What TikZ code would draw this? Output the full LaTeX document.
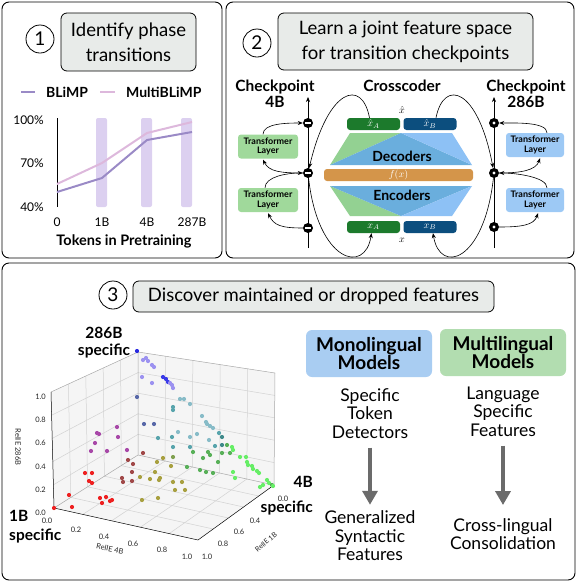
\documentclass[tikz,border=0pt]{standalone}
\usepackage{fontspec}
\setmainfont{Lato}
\usepackage{amsmath}
\usetikzlibrary{arrows.meta,calc,positioning}

\definecolor{panelgray}{HTML}{E8EBE9}
\definecolor{barlav}{HTML}{DCD0F0}
\definecolor{blimpc}{HTML}{9A8AC6}
\definecolor{multic}{HTML}{DDB8DC}
\definecolor{tlgreen}{HTML}{A0D99B}
\definecolor{tlblue}{HTML}{9DC9F5}
\definecolor{decgreen}{HTML}{93D192}
\definecolor{decmid}{HTML}{6AAEDD}
\definecolor{declight}{HTML}{8DC1F5}
\definecolor{fxorange}{HTML}{D4954A}
\definecolor{xagreen}{HTML}{1C7A2C}
\definecolor{xbblue}{HTML}{0C4E7E}
\definecolor{monoblue}{HTML}{A9CDF2}
\definecolor{multigreen}{HTML}{B2DDB0}
\definecolor{paneface}{HTML}{F5F5F5}
\definecolor{gridc}{HTML}{D2D2D2}
\definecolor{arrowgray}{HTML}{6B6B6B}
% scatter colours
\definecolor{c1}{HTML}{2A2AE0}
\definecolor{c2}{HTML}{9C92F0}
\definecolor{c3}{HTML}{3A3AE8}
\definecolor{c4}{HTML}{5868A8}
\definecolor{c5}{HTML}{88BCC8}
\definecolor{c6}{HTML}{58A4AC}
\definecolor{c7}{HTML}{3F8A8A}
\definecolor{c8}{HTML}{58B058}
\definecolor{c9}{HTML}{66EE66}
\definecolor{c10}{HTML}{A8A040}
\definecolor{c11}{HTML}{A04848}
\definecolor{c12}{HTML}{A848A8}
\definecolor{c13}{HTML}{EE2020}
\definecolor{c14}{HTML}{80A050}

\begin{document}
\begin{tikzpicture}[x=1pt,y=-1pt,>={Stealth[length=5pt,width=4pt]}]
    \tikzset{
      panel/.style={draw, rounded corners=7pt, line width=0.9pt},
      titlebox/.style={draw, fill=panelgray, rounded corners=6pt, line width=0.8pt, align=center, inner sep=0pt,
        font=\fontsize{18.5}{25}\selectfont},
      numcirc/.style={draw, circle, fill=white, line width=0.8pt, minimum size=28pt, inner sep=0pt,
        font=\fontsize{19}{19}\selectfont},
      boldlab/.style={font=\fontsize{14}{16}\selectfont\bfseries, align=center, inner sep=0pt},
      ticklab/.style={font=\fontsize{12}{12}\selectfont, inner sep=0pt},
      tlayer/.style={rounded corners=3pt, align=center, inner sep=0pt, minimum width=60pt, minimum height=24pt,
        font=\fontsize{9}{9.5}\selectfont\bfseries},
      cpnode/.style={circle, fill=black, minimum size=10pt, inner sep=0pt},
      minusnode/.style={cpnode, path picture={\draw[white, line width=1.1pt]
        ([xshift=-2.6pt]path picture bounding box.center) -- ([xshift=2.6pt]path picture bounding box.center);}},
      dotnode/.style={cpnode, path picture={\fill[white] (path picture bounding box.center) circle (1.7pt);}},
      xbar/.style={rounded corners=3pt, minimum width=53pt, minimum height=12pt, inner sep=0pt, text=white,
        font=\fontsize{10}{10}\selectfont},
      arrow/.style={->, line width=0.6pt},
      modelbox/.style={rounded corners=6pt, align=center, minimum width=126pt, minimum height=47pt, inner sep=0pt,
        font=\fontsize{19}{18}\selectfont\bfseries},
      desc/.style={align=center, inner sep=0pt, font=\fontsize{17.5}{18.5}\selectfont},
      bigarrow/.style={-{Triangle[length=14pt,width=15pt]}, line width=4pt, arrowgray},
      smalltick/.style={font=\fontsize{7.5}{7.5}\selectfont, inner sep=0pt, text=black!85}
    }
    \useasboundingbox (0,0) rectangle (576,582);

    % panels
    \draw[panel] (2,2) rectangle (222,258);
    \draw[panel] (226,2) rectangle (574,258);
    \draw[panel] (2,263) rectangle (575,580);

    % ---- panel 1 ----
    \node[numcirc] (num1) at (40,39) {1};
    \node[titlebox, minimum width=135pt, minimum height=58pt] (title1) at (128.5,42) {Identify phase\\transitions};
    \draw[blimpc, line width=2pt] (21,92) -- (35,92);
    \node[boldlab, anchor=west] (legblimp) at (46,92) {BLiMP};
    \draw[multic, line width=2pt] (100,92) -- (115,92);
    \node[boldlab, anchor=west] (legmulti) at (126,92) {MultiBLiMP};
    \foreach \bx in {96,141,181}
      \fill[barlav, rounded corners=2pt] (\bx,118) rectangle ++(11,89);
    \draw[line width=0.6pt] (57,118) -- (57,207);
    \draw[multic, line width=2pt] (57,184) -- (102,163) -- (147,133) -- (192,122);
    \draw[blimpc, line width=2pt] (57,192) -- (102,178) -- (147,140) -- (192,132);
    \node[ticklab, anchor=east] (y100) at (44,120) {100\%};
    \node[ticklab, anchor=east] (y70) at (44,163) {70\%};
    \node[ticklab, anchor=east] (y40) at (44,207) {40\%};
    \node[ticklab] (x0) at (57,222) {0};
    \node[ticklab] (x1b) at (102,222) {1B};
    \node[ticklab] (x4b) at (147,222) {4B};
    \node[ticklab] (x287b) at (192,222) {287B};
    \node[boldlab, font=\fontsize{14.5}{16}\selectfont\bfseries] (xtitle) at (124,241) {Tokens in Pretraining};

    % ---- panel 2 ----
    \node[numcirc] (num2) at (257,43) {2};
    \node[titlebox, minimum width=255pt, minimum height=57pt] (title2) at (405.5,41.5)
      {Learn a joint feature space\\for transition checkpoints};
    \node[boldlab, font=\fontsize{15.5}{16}\selectfont\bfseries] (cp4b) at (275,94) {Checkpoint\\4B};
    \node[boldlab, font=\fontsize{15.5}{16}\selectfont\bfseries] (crossc) at (402,86) {Crosscoder};
    \node[boldlab, font=\fontsize{15.5}{16}\selectfont\bfseries] (cp286b) at (526,94) {Checkpoint\\286B};

    % residual streams
    \coordinate (la) at (308,248);
    \coordinate (lb) at (308,97);
    \coordinate (ra) at (494,248);
    \coordinate (rb) at (494,97);
    \draw[arrow] (la) -- (lb);
    \draw[arrow] (ra) -- (rb);
    \node[minusnode] (na1) at (308,123) {};
    \node[minusnode] (na2) at (308,173) {};
    \node[minusnode] (na3) at (308,228) {};
    \node[dotnode] (nb1) at (494,123) {};
    \node[dotnode] (nb2) at (494,173) {};
    \node[dotnode] (nb3) at (494,227) {};
    \node[tlayer, fill=tlgreen] (tla1) at (268,146.5) {Transformer\\Layer};
    \node[tlayer, fill=tlgreen] (tla2) at (268,200) {Transformer\\Layer};
    \node[tlayer, fill=tlblue, minimum width=58pt] (tlb1) at (535,145) {Transformer\\Layer};
    \node[tlayer, fill=tlblue, minimum width=58pt] (tlb2) at (535,200) {Transformer\\Layer};

    \draw[arrow] (na2.west) .. controls +(-22,0) and +(6,12) .. ($(tla1.south)+(-5,1)$);
    \draw[arrow] ($(tla1.north)+(-5,0)$) .. controls +(0,-11) and +(-16,0) .. (na1.west);
    \draw[arrow] (na3.west) .. controls +(-22,0) and +(6,12) .. ($(tla2.south)+(0,1)$);
    \draw[arrow] ($(tla2.north)+(-3,0)$) .. controls +(0,-11) and +(-16,0) .. (na2.west);
    \draw[arrow] ($(tlb1.north)+(12,0)$) .. controls +(0,-11) and +(16,0) .. (nb1.east);
    \draw[arrow] (nb2.east) .. controls +(22,0) and +(-4,12) .. ($(tlb1.south)+(5,1)$);
    \draw[arrow] ($(tlb2.north)+(12,0)$) .. controls +(0,-11) and +(16,0) .. (nb2.east);
    \draw[arrow] (nb3.east) .. controls +(22,0) and +(-4,12) .. ($(tlb2.south)+(3,1)$);

    % crosscoder body
    \fill[decgreen] (330,165) -- (350,133) -- (401,133) -- cycle;
    \fill[decmid] (330,165) -- (401,133) -- (472,165) -- cycle;
    \fill[declight] (401,133) -- (452,133) -- (472,165) -- cycle;
    \fill[decgreen] (330,186) -- (350,216) -- (401,216) -- cycle;
    \fill[decmid] (330,186) -- (401,216) -- (472,186) -- cycle;
    \fill[declight] (401,216) -- (452,216) -- (472,186) -- cycle;
    \node[boldlab] (dec) at (402,156) {Decoders};
    \node[boldlab] (enc) at (402,195) {Encoders};
    \node[xbar, fill=fxorange, minimum width=149pt] (fx) at (398.5,175) {$f(x)$};
    \node[xbar, fill=xagreen] (xha) at (373.5,124) {$\hat{x}_A$};
    \node[xbar, fill=xbblue] (xhb) at (430,124) {$\hat{x}_B$};
    \node[xbar, fill=xagreen] (xa) at (373.5,227) {$x_A$};
    \node[xbar, fill=xbblue] (xb) at (430,227) {$x_B$};
    \node[font=\fontsize{10}{10}\selectfont, inner sep=0pt] (xhat) at (402,110) {$\hat{x}$};
    \node[font=\fontsize{10}{10}\selectfont, inner sep=0pt] (xin) at (402,240) {$x$};

    \draw[arrow] ($(xha.north)+(-4,0)$) .. controls (362,78) and (328,88) .. (na2);
    \draw[arrow] (na2) .. controls (318,262) and (365,275) .. ($(xa.south)+(-2,0)$);
    \draw[arrow] ($(xhb.north)+(6,0)$) .. controls (444,78) and (478,88) .. (nb2);
    \draw[arrow] (nb2) .. controls (484,262) and (440,275) .. ($(xb.south)+(3,0)$);

    % ---- panel 3 ----
    \node[numcirc] (num3) at (113,295) {3};
    \node[titlebox, minimum width=361pt, minimum height=31pt] (title3) at (313.5,296.5)
      {Discover maintained or dropped features};

    % 3d scatter
    \coordinate (f00) at (138,455);
    \coordinate (f01) at (54,508);
    \coordinate (f11) at (198,540);
    \coordinate (f10) at (274,485);
    \coordinate (z00) at (138,352);
    \coordinate (z01) at (51,392);
    \coordinate (z10) at (275,373);
    \fill[paneface] (f00) -- (f01) -- (f11) -- (f10) -- cycle;
    \fill[paneface] (f00) -- (f01) -- (z01) -- (z00) -- cycle;
    \fill[paneface] (f00) -- (f10) -- (z10) -- (z00) -- cycle;
    \foreach \t in {0.2,0.4,0.6,0.8} {
      \draw[gridc, line width=0.5pt] ($(f00)!\t!(f10)$) -- ($(f01)!\t!(f11)$);
      \draw[gridc, line width=0.5pt] ($(f00)!\t!(f01)$) -- ($(f10)!\t!(f11)$);
      \draw[gridc, line width=0.5pt] ($(f00)!\t!(f01)$) -- ($(z00)!\t!(z01)$);
      \draw[gridc, line width=0.5pt] ($(f00)!\t!(z00)$) -- ($(f01)!\t!(z01)$);
      \draw[gridc, line width=0.5pt] ($(f00)!\t!(f10)$) -- ($(z00)!\t!(z10)$);
      \draw[gridc, line width=0.5pt] ($(f00)!\t!(z00)$) -- ($(f10)!\t!(z10)$);
    }
    \draw[gridc!80!black, line width=0.5pt] (z01) -- (z00) -- (z10) -- (f10);
    \draw[gridc!80!black, line width=0.5pt] (z00) -- (f00) -- (f01);
    \draw[gridc!80!black, line width=0.5pt] (f00) -- (f10);
    \draw[line width=0.5pt] (z01) -- (f01) -- (f11) -- (f10);

    \foreach \px/\py/\pc in {
      137/351/c1, 143/360/c2, 146/358/c2, 148/361/c2, 152/365/c2, 154/367/c2, 142/377/c2, 152/383/c2,
      163/377/c3, 166/379/c3, 168/382/c3, 170/383/c2, 172/385/c2, 173/388/c2, 137/397/c4,
      180/399/c5, 184/399/c5, 190/404/c5, 173/407/c6, 173/410/c6, 144/424/c4, 154/424/c4,
      202/416/c5, 206/422/c5, 207/424/c5, 210/426/c5, 213/428/c5,
      178/432/c5, 172/437/c6, 190/437/c5, 197/434/c5, 209/440/c5, 219/433/c6, 222/437/c7, 158/438/c6,
      173/447/c6, 190/447/c6, 215/446/c6, 222/445/c7, 227/445/c8,
      232/447/c9, 233/450/c9, 230/453/c8, 208/452/c8, 210/455/c8, 222/453/c8, 193/452/c8, 203/458/c8,
      173/457/c14, 240/457/c9, 246/457/c9, 247/462/c9, 248/465/c9, 252/466/c9, 253/469/c9, 257/471/c9,
      259/473/c9, 233/472/c9, 235/478/c9, 267/480/c9, 269/483/c9, 272/485/c8, 273/486/c9, 260/487/c9,
      263/485/c9, 218/462/c8, 200/470/c8, 206/472/c8, 213/473/c8, 187/467/c8,
      163/458/c10, 157/462/c10, 171/466/c10, 155/472/c10, 160/478/c10, 159/480/c10, 173/482/c10,
      182/482/c10, 175/490/c10, 185/490/c10, 158/498/c10, 142/500/c10, 140/477/c10, 150/479/c10,
      143/453/c11, 128/460/c11, 133/464/c11, 132/472/c11, 122/478/c11, 123/482/c11, 132/481/c11,
      117/427/c12, 97/433/c12, 99/434/c12, 118/437/c12, 95/443/c12, 107/451/c12, 91/451/c12, 127/450/c12,
      92/473/c13, 85/473/c13, 89/481/c13, 92/483/c13, 69/495/c13, 100/498/c13, 106/497/c13,
      102/503/c13, 110/501/c13, 112/500/c13, 72/507/c13, 54/508/c13}
      \fill[\pc] (\px,\py) circle (2.1);

    % axis ticks
    \foreach \tv/\ty in {1.0/397, 0.8/420, 0.6/443, 0.4/467, 0.2/490, 0.0/513}
      \node[smalltick, anchor=east] (zt\ty) at (46,\ty) {\tv};
    \foreach \tv/\tx/\ty in {0.0/47/521, 0.2/76/530, 0.4/104/537, 0.6/133/544, 0.8/162/550, 1.0/187/557}
      \node[smalltick] (at\tx) at (\tx,\ty) {\tv};
    \foreach \tv/\tx/\ty in {0.0/283/499, 0.4/255/521, 0.6/239/532, 0.8/223/544, 1.0/207/557}
      \node[smalltick] (bt\tx) at (\tx,\ty) {\tv};
    \node[smalltick, rotate=-90] (zlab) at (18,447) {RelIE 286B};
    \node[smalltick, rotate=-12] (alab) at (110,549) {RelIE 4B};
    \node[smalltick, font=\fontsize{7}{7}\selectfont, rotate=40] (blab) at (266,542) {RelIE 1B};

    \node[boldlab, font=\fontsize{15.5}{17}\selectfont\bfseries] (spec286) at (104,343) {286B\\specific};
    \node[boldlab, font=\fontsize{15.5}{19}\selectfont\bfseries, align=left, anchor=west] (spec1) at (9,527) {1B\\specific};
    \node[boldlab, font=\fontsize{15.5}{25}\selectfont\bfseries, align=right, anchor=east] (spec4) at (313,496) {4B\\specific};

    % right side
    \node[modelbox, fill=monoblue] (mono) at (369,353.5) {Monolingual\\Models};
    \node[modelbox, fill=multigreen] (multi) at (503,352.5) {Multilingual\\Models};
    \node[desc] (spectok) at (370,413.5) {Specific\\Token\\Detectors};
    \node[desc] (langspec) at (503,411.5) {Language\\Specific\\Features};
    \node[desc] (gensyn) at (370,536) {Generalized\\Syntactic\\Features};
    \node[desc] (crossling) at (503,534) {Cross-lingual\\Consolidation};
    \draw[bigarrow] ($(spectok.south)+(0,9)$) -- ($(gensyn.north)+(0,-6)$);
    \draw[bigarrow] ($(langspec.south)+(0,9)$) -- ($(crossling.north)+(0,-13)$);
  \end{tikzpicture}
\end{document}
